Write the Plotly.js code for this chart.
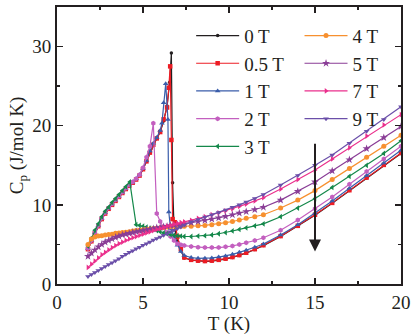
<!DOCTYPE html>
<html>
<head>
<meta charset="utf-8">
<script src="https://cdn.plot.ly/plotly-3.0.1.min.js"></script>
<style>
  html, body { margin: 0; padding: 0; background: #fff; }
  #grafica { width: 415px; height: 335px; }
</style>
</head>
<body>
<div id="grafica"></div>
<script>
// temperaturas comunes
const tBajo = [1.8, 2.0, 2.2, 2.4, 2.6, 2.8, 3.0, 3.2, 3.4, 3.6, 3.8, 4.0, 4.2, 4.4, 4.6, 4.8, 5.0, 5.2, 5.4, 5.6, 5.8, 6.0, 6.2, 6.4, 6.6, 6.8, 7.0, 7.2];
const tAlto = [7.4, 7.8, 8.2, 8.6, 9.0, 9.4, 9.8, 10.2, 10.6, 11.0, 11.5, 12, 13, 14, 15, 16, 17, 18, 19, 20];

// 0 T
const t0 = [1.8, 2.0, 2.2, 2.4, 2.6, 2.8, 3.0, 3.2, 3.4, 3.6, 3.8, 4.0, 4.2, 4.4, 4.6, 4.8, 5.0, 5.2, 5.4, 5.6, 5.8, 6.0, 6.2, 6.4, 6.55, 6.65, 6.72, 6.8, 7.0, 7.2];
const cp0 = [4.4, 5.4, 6.4, 7.3, 8.2, 8.9, 9.5, 10.0, 10.5, 11.0, 11.5, 12.0, 12.4, 12.8, 13.2, 13.7, 14.5, 15.5, 16.6, 17.6, 18.4, 19.2, 20.6, 22.5, 25.5, 29.2, 12.8, 7.5, 5.4, 4.2];
const cp0Alto = [3.3, 3.0, 2.9, 2.85, 2.9, 3.0, 3.15, 3.35, 3.6, 3.9, 4.35, 4.85, 6.0, 7.3, 8.7, 10.2, 11.8, 13.4, 15.0, 16.5];

// 0.5 T
const t05 = [1.8, 2.0, 2.2, 2.4, 2.6, 2.8, 3.0, 3.2, 3.4, 3.6, 3.8, 4.0, 4.2, 4.4, 4.6, 4.8, 5.0, 5.2, 5.4, 5.6, 5.8, 6.0, 6.2, 6.4, 6.5, 6.58, 6.65, 6.72, 6.85, 7.0, 7.2];
const cp05 = [4.4, 5.4, 6.4, 7.3, 8.2, 8.9, 9.5, 10.0, 10.5, 11.0, 11.5, 12.0, 12.4, 12.8, 13.2, 13.7, 14.5, 15.5, 16.6, 17.6, 18.4, 19.2, 20.8, 22.3, 24.8, 27.5, 18.2, 8.2, 7.8, 6.0, 4.4];
const cp05Alto = [3.35, 3.05, 2.95, 2.9, 2.95, 3.05, 3.2, 3.4, 3.65, 3.95, 4.4, 4.9, 6.05, 7.35, 8.75, 10.25, 11.85, 13.45, 15.05, 16.55];

// 1 T
const t1 = [1.8, 2.0, 2.2, 2.4, 2.6, 2.8, 3.0, 3.2, 3.4, 3.6, 3.8, 4.0, 4.2, 4.4, 4.6, 4.8, 5.0, 5.2, 5.4, 5.6, 5.8, 6.0, 6.1, 6.2, 6.32, 6.45, 6.5, 6.6, 6.8, 7.0, 7.2];
const cp1 = [4.5, 5.5, 6.5, 7.4, 8.3, 9.0, 9.6, 10.1, 10.6, 11.1, 11.6, 12.1, 12.5, 12.9, 13.3, 13.8, 14.6, 15.6, 16.8, 17.8, 18.5, 19.4, 20.3, 22.9, 25.3, 20.8, 9.1, 7.0, 6.0, 4.9, 4.1];
const cp1Alto = [3.6, 3.35, 3.25, 3.25, 3.3, 3.4, 3.55, 3.75, 4.0, 4.25, 4.65, 5.05, 6.2, 7.5, 8.95, 10.5, 12.1, 13.7, 15.3, 16.9];

// 2 T
const cp2 = [4.5, 5.5, 6.5, 7.4, 8.3, 9.0, 9.6, 10.1, 10.6, 11.1, 11.6, 12.1, 12.5, 12.9, 13.3, 13.8, 14.7, 16.0, 17.4, 20.3, 8.9, 7.9, 7.1, 6.5, 6.0, 5.5, 5.1, 4.95];
const cp2Alto = [4.85, 4.75, 4.65, 4.6, 4.6, 4.6, 4.7, 4.8, 5.0, 5.2, 5.5, 5.85, 6.8, 8.1, 9.5, 11.0, 12.6, 14.2, 15.8, 17.4];

// 3 T
const t3 = [1.8, 2.0, 2.2, 2.4, 2.6, 2.8, 3.0, 3.2, 3.4, 3.6, 3.8, 4.0, 4.23, 4.6, 4.8, 5.0, 5.2, 5.4, 5.6, 5.8, 6.0, 6.2, 6.4, 6.6, 6.8, 7.0, 7.2];
const cp3 = [4.8, 5.8, 6.8, 7.6, 8.5, 9.2, 9.7, 10.3, 10.8, 11.3, 11.8, 12.3, 12.9, 7.5, 7.4, 7.3, 7.2, 7.05, 6.9, 6.75, 6.6, 6.45, 6.35, 6.25, 6.15, 6.1, 6.05];
const cp3Alto = [6.0, 6.0, 6.05, 6.1, 6.2, 6.35, 6.5, 6.7, 6.9, 7.1, 7.35, 7.6, 8.5, 9.6, 10.8, 12.2, 13.6, 15.0, 16.5, 18.1];

// 4 T
const cp4 = [5.0, 5.7, 5.95, 6.05, 6.1, 6.2, 6.25, 6.3, 6.4, 6.45, 6.5, 6.55, 6.6, 6.7, 6.75, 6.8, 6.85, 6.9, 6.95, 7.0, 7.05, 7.1, 7.15, 7.2, 7.25, 7.3, 7.3, 7.3];
const cp4Alto = [7.3, 7.3, 7.35, 7.4, 7.5, 7.6, 7.75, 7.9, 8.1, 8.3, 8.5, 8.75, 9.6, 10.6, 11.8, 13.2, 14.6, 16.0, 17.4, 18.8];

// 5 T
const cp5 = [3.5, 3.9, 4.3, 4.7, 5.0, 5.3, 5.5, 5.7, 5.9, 6.05, 6.2, 6.3, 6.4, 6.5, 6.6, 6.7, 6.75, 6.85, 6.9, 7.0, 7.1, 7.15, 7.25, 7.3, 7.4, 7.45, 7.5, 7.55];
const cp5Alto = [7.6, 7.75, 7.9, 8.05, 8.2, 8.35, 8.55, 8.75, 8.95, 9.15, 9.4, 9.7, 10.6, 11.7, 12.9, 14.3, 15.7, 17.1, 18.5, 19.9];

// 7 T
const cp7 = [2.1, 2.5, 2.9, 3.3, 3.7, 4.0, 4.3, 4.6, 4.85, 5.1, 5.3, 5.5, 5.7, 5.85, 6.0, 6.15, 6.3, 6.45, 6.6, 6.75, 6.9, 7.0, 7.15, 7.3, 7.4, 7.55, 7.65, 7.75];
const cp7Alto = [7.85, 8.05, 8.3, 8.5, 8.75, 9.0, 9.25, 9.5, 9.8, 10.1, 10.5, 10.9, 12.0, 13.2, 14.4, 15.8, 17.2, 18.7, 20.1, 21.4];

// 9 T
const cp9 = [0.95, 1.2, 1.45, 1.7, 1.95, 2.2, 2.45, 2.7, 2.95, 3.2, 3.5, 3.75, 4.0, 4.2, 4.45, 4.65, 4.9, 5.1, 5.3, 5.55, 5.75, 5.95, 6.15, 6.35, 6.6, 6.8, 7.0, 7.2];
const cp9Alto = [7.45, 7.85, 8.15, 8.45, 8.75, 9.05, 9.35, 9.7, 10.0, 10.35, 10.8, 11.3, 12.5, 13.7, 15.0, 16.3, 17.8, 19.3, 20.8, 22.4];

const nombres = ['0 T', '0.5 T', '1 T', '2 T', '3 T', '4 T', '5 T', '7 T', '9 T'];
const colores = ['#231f20', '#ed1c24', '#3a5daa', '#c35fbf', '#14884a', '#f7902f', '#8a3d96', '#ea2f8c', '#6b4fa9'];
const simbolos = ['circle', 'square', 'triangle-up', 'hexagon', 'triangle-left', 'circle', 'star', 'triangle-right', 'triangle-down'];
const tamanos = [3.5, 4.5, 5, 5, 5, 5, 6, 5, 5];

const series = [
    { t: t0, cp: cp0, alto: cp0Alto },
    { t: t05, cp: cp05, alto: cp05Alto },
    { t: t1, cp: cp1, alto: cp1Alto },
    { t: tBajo, cp: cp2, alto: cp2Alto },
    { t: t3, cp: cp3, alto: cp3Alto },
    { t: tBajo, cp: cp4, alto: cp4Alto },
    { t: tBajo, cp: cp5, alto: cp5Alto },
    { t: tBajo, cp: cp7, alto: cp7Alto },
    { t: tBajo, cp: cp9, alto: cp9Alto }
];

const trazas = series.map((s, i) => ({
    x: s.t.concat(tAlto),
    y: s.cp.concat(s.alto),
    type: 'scatter',
    mode: 'lines+markers',
    name: nombres[i],
    legend: i < 5 ? 'legend' : 'legend2',
    line: { color: colores[i], width: 1.2 },
    marker: { color: colores[i], symbol: simbolos[i], size: tamanos[i], line: { width: 0 } }
}));

const fuente = { family: 'Liberation Serif', size: 19, color: '#231f20' };

const ejeComun = {
    showline: true,
    linewidth: 2,
    linecolor: '#231f20',
    mirror: 'allticks',
    ticks: 'inside',
    ticklen: 6,
    tickwidth: 1.5,
    tickcolor: '#231f20',
    showgrid: false,
    zeroline: false,
    tickfont: fuente
};

const leyendaComun = {
    font: fuente,
    bgcolor: 'rgba(0,0,0,0)',
    borderwidth: 0,
    itemwidth: 43,
    xanchor: 'left',
    yanchor: 'top',
    itemclick: false
};

const layout = {
    width: 415,
    height: 335,
    margin: { l: 57, r: 14, t: 7, b: 51 },
    paper_bgcolor: '#fff',
    plot_bgcolor: '#fff',
    font: fuente,
    showlegend: true,
    legend: Object.assign({ x: 0.39, y: 0.965 }, leyendaComun),
    legend2: Object.assign({ x: 0.705, y: 0.965 }, leyendaComun),
    xaxis: Object.assign({
        range: [0, 20],
        dtick: 5,
        tick0: 0,
        minor: { ticks: 'inside', ticklen: 3, dtick: 2.5, tickwidth: 1.5, tickcolor: '#231f20' },
        title: { text: 'T (K)', font: fuente, standoff: 0 }
    }, ejeComun),
    yaxis: Object.assign({
        range: [0, 35],
        dtick: 10,
        tick0: 0,
        minor: { ticks: 'inside', ticklen: 3, dtick: 5, tickwidth: 1.5, tickcolor: '#231f20' },
        title: { text: 'C<sub>p</sub> (J/mol K)', font: fuente, standoff: 4 }
    }, ejeComun),
    annotations: [{
        x: 15, y: 4.1, ax: 15, ay: 17.9,
        xref: 'x', yref: 'y', axref: 'x', ayref: 'y',
        text: '',
        showarrow: true,
        arrowhead: 2,
        arrowsize: 1.2,
        arrowwidth: 2,
        arrowcolor: '#231f20'
    }]
};

Plotly.newPlot('grafica', trazas, layout, { displayModeBar: false, staticPlot: true });
</script>
</body>
</html>
